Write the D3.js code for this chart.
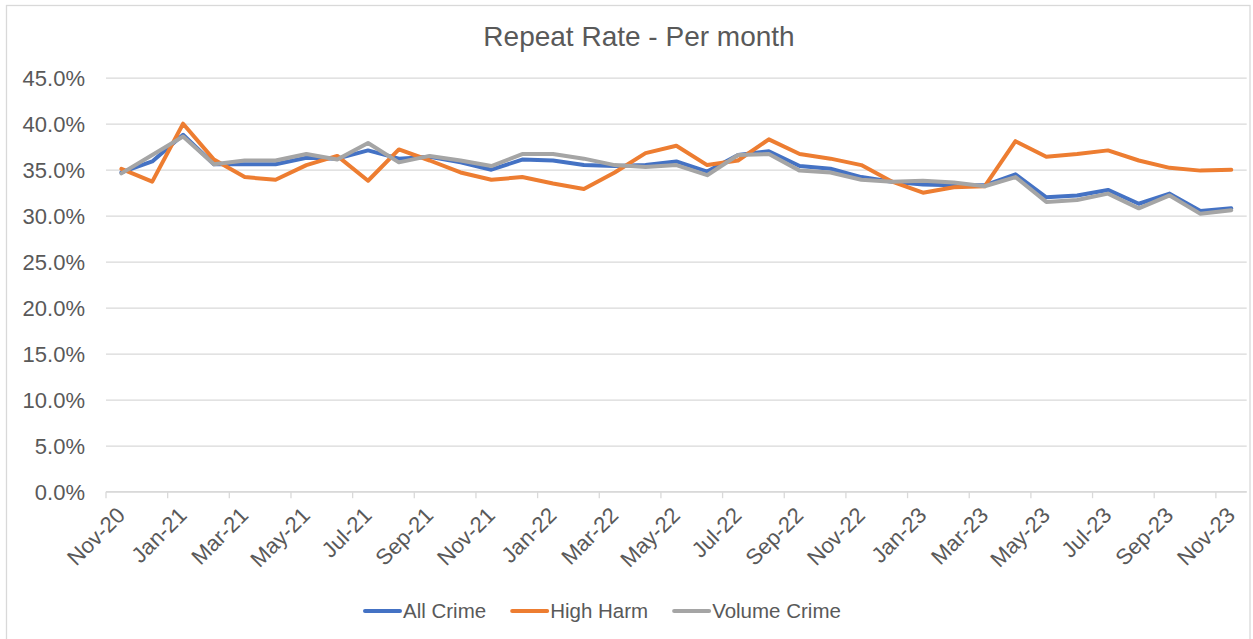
<!DOCTYPE html>
<html>
<head>
<meta charset="utf-8">
<script src="https://cdn.jsdelivr.net/npm/d3@7"></script>
<style>
  html, body { margin: 0; padding: 0; background: #fff; }
  svg text { font-family: "Liberation Sans", Arial, sans-serif; fill: #595959; }
</style>
</head>
<body>
<div id="chart"></div>
<script>
"use strict";

const months = [
  "Nov-20", "Dec-20", "Jan-21", "Feb-21", "Mar-21", "Apr-21", "May-21", "Jun-21", "Jul-21",
  "Aug-21", "Sep-21", "Oct-21", "Nov-21", "Dec-21", "Jan-22", "Feb-22", "Mar-22", "Apr-22",
  "May-22", "Jun-22", "Jul-22", "Aug-22", "Sep-22", "Oct-22", "Nov-22", "Dec-22", "Jan-23",
  "Feb-23", "Mar-23", "Apr-23", "May-23", "Jun-23", "Jul-23", "Aug-23", "Sep-23", "Oct-23", "Nov-23"
];

const allCrime = [
  34.7, 35.9, 38.8, 35.6, 35.6, 35.6, 36.3, 36.2, 37.1, 36.2, 36.4, 35.8, 35.0,
  36.1, 36.0, 35.5, 35.4, 35.5, 35.9, 34.8, 36.6, 37.0, 35.4, 35.1, 34.2, 33.7,
  33.4, 33.3, 33.3, 34.5, 32.0, 32.2, 32.8, 31.3, 32.4, 30.5, 30.8
];
const highHarm = [
  35.1, 33.7, 40.0, 36.1, 34.2, 33.9, 35.5, 36.5, 33.8, 37.2, 36.0, 34.7, 33.9,
  34.2, 33.5, 32.9, 34.7, 36.8, 37.6, 35.5, 36.0, 38.3, 36.7, 36.2, 35.5, 33.7,
  32.5, 33.1, 33.2, 38.1, 36.4, 36.7, 37.1, 36.0, 35.2, 34.9, 35.0
];
const volumeCrime = [
  34.6, 36.6, 38.6, 35.6, 36.0, 36.0, 36.7, 36.1, 37.9, 35.8, 36.5, 36.0, 35.4,
  36.7, 36.7, 36.2, 35.5, 35.3, 35.5, 34.4, 36.6, 36.7, 34.9, 34.7, 33.9, 33.7,
  33.8, 33.6, 33.2, 34.2, 31.5, 31.7, 32.4, 30.8, 32.2, 30.2, 30.6
];

const seriesNames = ["All Crime", "High Harm", "Volume Crime"];
const seriesColors = ["#4472C4", "#ED7D31", "#A5A5A5"];
const yTicks = [0, 5, 10, 15, 20, 25, 30, 35, 40, 45];

const width = 1253;
const height = 639;
const plotLeft = 106;
const plotRight = 1246.7;
const plotTop = 77.7;
const plotBottom = 491.7;

const svg = d3.select("#chart")
  .append("svg")
  .attr("width", width)
  .attr("height", height)
;

// chart frame
svg.append("rect")
  .attr("x", 6.5)
  .attr("y", 5.5)
  .attr("width", 1243.5)
  .attr("height", 640)
  .attr("fill", "none")
  .attr("stroke", "#d9d9d9")
  .attr("stroke-width", 1.3)
;

svg.append("text")
  .attr("x", 639)
  .attr("y", 46)
  .attr("text-anchor", "middle")
  .style("font-size", "28px")
  .text("Repeat Rate - Per month")
;

const xScale = d3.scaleBand()
  .domain(months)
  .range([plotLeft, plotRight])
  .paddingInner(0)
  .paddingOuter(0)
;
const bw = xScale.bandwidth();
const cx = m => xScale(m) + bw / 2;

const yScale = d3.scaleLinear()
  .domain([0, 45])
  .range([plotBottom, plotTop])
;

// gridlines + y labels
const yAxis = d3.axisLeft(yScale)
  .tickValues(yTicks)
  .tickSize(-(plotRight - plotLeft))
  .tickPadding(21)
  .tickFormat(d => d.toFixed(1) + "%")
;
svg.append("g")
  .attr("transform", `translate(${plotLeft}, 0)`)
  .call(yAxis)
  .call(g => g.select(".domain").remove())
  .call(g => g.selectAll("line").attr("stroke", "#d9d9d9").attr("stroke-width", 1.3))
  .call(g => g.selectAll("text")
    .style("font-size", "22px")
    .attr("fill", "#595959")
    .attr("dy", "0.36em"))
;

// x axis: ticks on category edges, labels at category centres
const labelMonths = months.filter((m, i) => i % 2 === 0);
const xAxisG = svg.append("g")
  .attr("transform", `translate(0, ${plotBottom})`)
;
xAxisG.append("line")
  .attr("x1", plotLeft)
  .attr("x2", plotRight)
  .attr("stroke", "#d9d9d9")
  .attr("stroke-width", 1.3)
;
xAxisG.selectAll("line.tick")
  .data(labelMonths)
  .enter()
  .append("line")
  .attr("class", "tick")
  .attr("x1", d => xScale(d))
  .attr("x2", d => xScale(d))
  .attr("y1", 0)
  .attr("y2", 6.5)
  .attr("stroke", "#d9d9d9")
  .attr("stroke-width", 1.3)
;
xAxisG.selectAll("text")
  .data(labelMonths)
  .enter()
  .append("text")
  .attr("transform", d => `translate(${cx(d) + 5}, 25) rotate(-45)`)
  .attr("text-anchor", "end")
  .style("font-size", "22px")
  .text(d => d)
;

// lines
const seriesData = [allCrime, highHarm, volumeCrime];
const line = d3.line()
  .x((d, i) => cx(months[i]))
  .y(d => yScale(d))
;
svg.selectAll("path.series")
  .data(seriesData)
  .enter()
  .append("path")
  .attr("class", "series")
  .attr("d", d => line(d))
  .attr("fill", "none")
  .attr("stroke", (d, i) => seriesColors[i])
  .attr("stroke-width", 4)
  .attr("stroke-linejoin", "round")
  .attr("stroke-linecap", "round")
;

// legend
const legend = svg.append("g").attr("transform", "translate(365, 611)");
let lx = 0;
seriesNames.forEach((name, i) => {
  const item = legend.append("g").attr("transform", `translate(${lx}, 0)`);
  item.append("line")
    .attr("x1", 0)
    .attr("x2", 35)
    .attr("stroke", seriesColors[i])
    .attr("stroke-width", 4)
    .attr("stroke-linecap", "round")
  ;
  const t = item.append("text")
    .attr("x", 38)
    .attr("dy", "0.36em")
    .style("font-size", "20.5px")
    .text(name)
  ;
  lx += 38 + t.node().getComputedTextLength() + 26;
});
</script>
</body>
</html>
